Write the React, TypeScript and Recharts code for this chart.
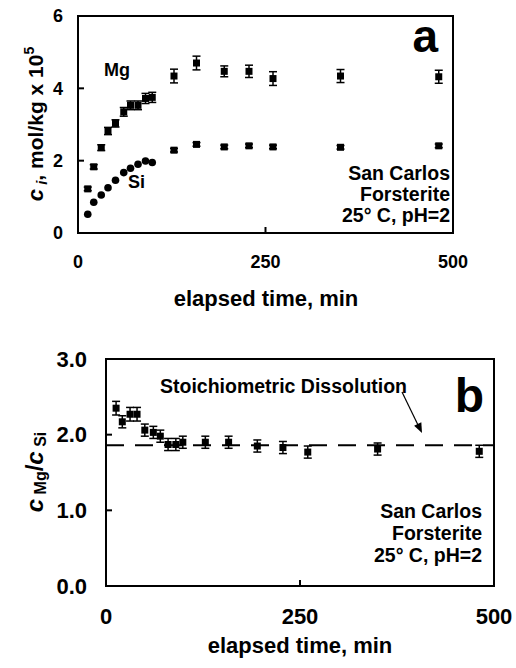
import React from 'react'
import {
  ScatterChart,
  Scatter,
  XAxis,
  YAxis,
  ErrorBar,
  ReferenceArea,
  ReferenceLine,
} from 'recharts'

// elapsed time (min) of each sample
const times = [13, 21, 31, 40, 50, 61, 70, 80, 90, 99, 128, 158, 195, 228, 260, 350, 481]

// panel a: concentrations, mol/kg x 1e5
const mgConc = [1.22, 1.83, 2.36, 2.82, 3.03, 3.35, 3.53, 3.53, 3.72, 3.75, 4.34, 4.7, 4.47, 4.47, 4.27, 4.34, 4.32]
const mgErr = [0.05, 0.06, 0.08, 0.1, 0.1, 0.12, 0.12, 0.12, 0.14, 0.14, 0.19, 0.19, 0.15, 0.17, 0.19, 0.18, 0.18]
const siConc = [0.52, 0.85, 1.05, 1.25, 1.46, 1.67, 1.79, 1.9, 1.99, 1.95, 2.29, 2.45, 2.38, 2.41, 2.38, 2.37, 2.41]
const siErr = [0, 0, 0, 0, 0, 0, 0, 0, 0, 0, 0.05, 0.05, 0.05, 0.05, 0.05, 0.05, 0.05]
const siMarker = [
  'circle', 'circle', 'circle', 'circle', 'circle', 'circle', 'circle', 'circle', 'circle', 'circle',
  'square', 'square', 'square', 'square', 'square', 'square', 'square',
]

// panel b: Mg/Si ratio
const ratio = [2.35, 2.17, 2.27, 2.27, 2.06, 2.03, 1.98, 1.87, 1.87, 1.9, 1.9, 1.9, 1.85, 1.83, 1.77, 1.81, 1.78]
const ratioErr = [0.09, 0.08, 0.09, 0.09, 0.08, 0.08, 0.08, 0.08, 0.08, 0.08, 0.08, 0.08, 0.08, 0.08, 0.08, 0.08, 0.08]
const stoichRatio = 1.86

const timeTicks = [0, 250, 500]
const concTicks = [0, 2, 4, 6]
const ratioTicks = [0, 1, 2, 3]
const infoLines = ['San Carlos', 'Forsterite', '25° C, pH=2']

const FONT = '"Liberation Sans", Arial, sans-serif'

const mgData = times.map((t, i) => ({ t, v: mgConc[i], err: mgErr[i], marker: 'square' }))
const siData = times.map((t, i) => ({ t, v: siConc[i], err: siErr[i], marker: siMarker[i] }))
const ratioData = times.map((t, i) => ({ t, v: ratio[i], err: ratioErr[i], marker: 'square' }))

const Marker = (props: any) => {
  const { cx, cy, payload } = props
  if (cx == null || cy == null) return null
  if (payload && payload.marker === 'circle') {
    return <circle cx={cx} cy={cy} r={3.8} fill="#000" />
  }
  return <rect x={cx - 3.5} y={cy - 3.5} width={7} height={7} fill="#000" />
}

const bold = { fontFamily: FONT, fontWeight: 'bold', fill: '#000' } as const

export default function App() {
  return (
    <div style={{ position: 'absolute', left: 0, top: 0, width: 516, height: 668, background: '#fff' }}>
      {/* panel a */}
      <div style={{ position: 'absolute', left: 0, top: 0 }}>
        <ScatterChart width={516} height={330} margin={{ top: 16, right: 63, bottom: 37, left: 18 }}>
          <XAxis
            type="number"
            dataKey="t"
            domain={[0, 500]}
            ticks={timeTicks}
            height={60}
            tickSize={-6}
            tickMargin={28}
            stroke="#000"
            strokeWidth={2}
            tick={{ ...bold, fontSize: 18 }}
          />
          <YAxis
            type="number"
            dataKey="v"
            domain={[0, 6]}
            ticks={concTicks}
            width={60}
            tickSize={-6}
            tickMargin={21}
            stroke="#000"
            strokeWidth={2}
            tick={{ ...bold, fontSize: 18 }}
          />
          <ReferenceArea x1={0} x2={500} y1={0} y2={6} fill="none" stroke="#000" strokeWidth={2} />
          <Scatter data={mgData} shape={Marker} isAnimationActive={false}>
            <ErrorBar dataKey="err" direction="y" width={4} stroke="#000" strokeWidth={1.5} />
          </Scatter>
          <Scatter data={siData} shape={Marker} isAnimationActive={false}>
            <ErrorBar dataKey="err" direction="y" width={4} stroke="#000" strokeWidth={1.5} />
          </Scatter>
          <text x={438} y={52} textAnchor="end" style={{ ...bold, fontSize: 46 }}>a</text>
          <text x={104} y={76} style={{ ...bold, fontSize: 18 }}>Mg</text>
          <text x={128} y={188} style={{ ...bold, fontSize: 18 }}>Si</text>
          {infoLines.map((line, i) => (
            <text key={line} x={450} y={180 + i * 21} textAnchor="end" style={{ ...bold, fontSize: 19.5 }}>
              {line}
            </text>
          ))}
          <text x={266} y={306} textAnchor="middle" style={{ ...bold, fontSize: 22 }}>elapsed time, min</text>
          <text
            x={43}
            y={124}
            textAnchor="middle"
            transform="rotate(-90, 43, 124)"
            style={{ ...bold, fontSize: 21 }}
          >
            <tspan fontStyle="italic" fontSize={22}>c</tspan>
            <tspan fontStyle="italic" fontSize={15} dy={4}> i</tspan>
            <tspan dy={-4}>, mol/kg x 10</tspan>
            <tspan fontSize={14} dy={-9}>5</tspan>
          </text>
        </ScatterChart>
      </div>

      {/* panel b */}
      <div style={{ position: 'absolute', left: 0, top: 330 }}>
        <ScatterChart width={516} height={338} margin={{ top: 29, right: 22, bottom: 22, left: 46 }}>
          <XAxis
            type="number"
            dataKey="t"
            domain={[0, 500]}
            ticks={timeTicks}
            height={60}
            tickSize={-6}
            tickMargin={28}
            stroke="#000"
            strokeWidth={2}
            tick={{ ...bold, fontSize: 22 }}
          />
          <YAxis
            type="number"
            dataKey="v"
            domain={[0, 3]}
            ticks={ratioTicks}
            tickFormatter={(v: number) => v.toFixed(1)}
            width={60}
            tickSize={-6}
            tickMargin={25}
            stroke="#000"
            strokeWidth={2}
            tick={{ ...bold, fontSize: 22 }}
          />
          <ReferenceArea x1={0} x2={500} y1={0} y2={3} fill="none" stroke="#000" strokeWidth={2} />
          <ReferenceLine y={stoichRatio} stroke="#000" strokeWidth={2} strokeDasharray="18 11" />
          <Scatter data={ratioData} shape={Marker} isAnimationActive={false}>
            <ErrorBar dataKey="err" direction="y" width={4} stroke="#000" strokeWidth={1.5} />
          </Scatter>
          <text x={484} y={82} textAnchor="end" style={{ ...bold, fontSize: 48 }}>b</text>
          <text x={160} y={63} style={{ ...bold, fontSize: 19.5 }}>Stoichiometric Dissolution</text>
          <line x1={402} y1={62} x2={418} y2={95} stroke="#000" strokeWidth={1.2} />
          <polygon points="422,103 414.1,95.7 421.3,92.3" fill="#000" />
          {infoLines.map((line, i) => (
            <text key={line} x={482} y={188 + i * 22} textAnchor="end" style={{ ...bold, fontSize: 19.5 }}>
              {line}
            </text>
          ))}
          <text x={300} y={323} textAnchor="middle" style={{ ...bold, fontSize: 22 }}>elapsed time, min</text>
          <text
            x={43}
            y={142}
            textAnchor="middle"
            transform="rotate(-90, 43, 142)"
            style={{ ...bold, fontSize: 24 }}
          >
            <tspan fontStyle="italic">c</tspan>
            <tspan fontSize={16} dy={3}> Mg</tspan>
            <tspan dy={-3}>/</tspan>
            <tspan fontStyle="italic">c</tspan>
            <tspan fontSize={16} dy={3}> Si</tspan>
          </text>
        </ScatterChart>
      </div>
    </div>
  )
}
